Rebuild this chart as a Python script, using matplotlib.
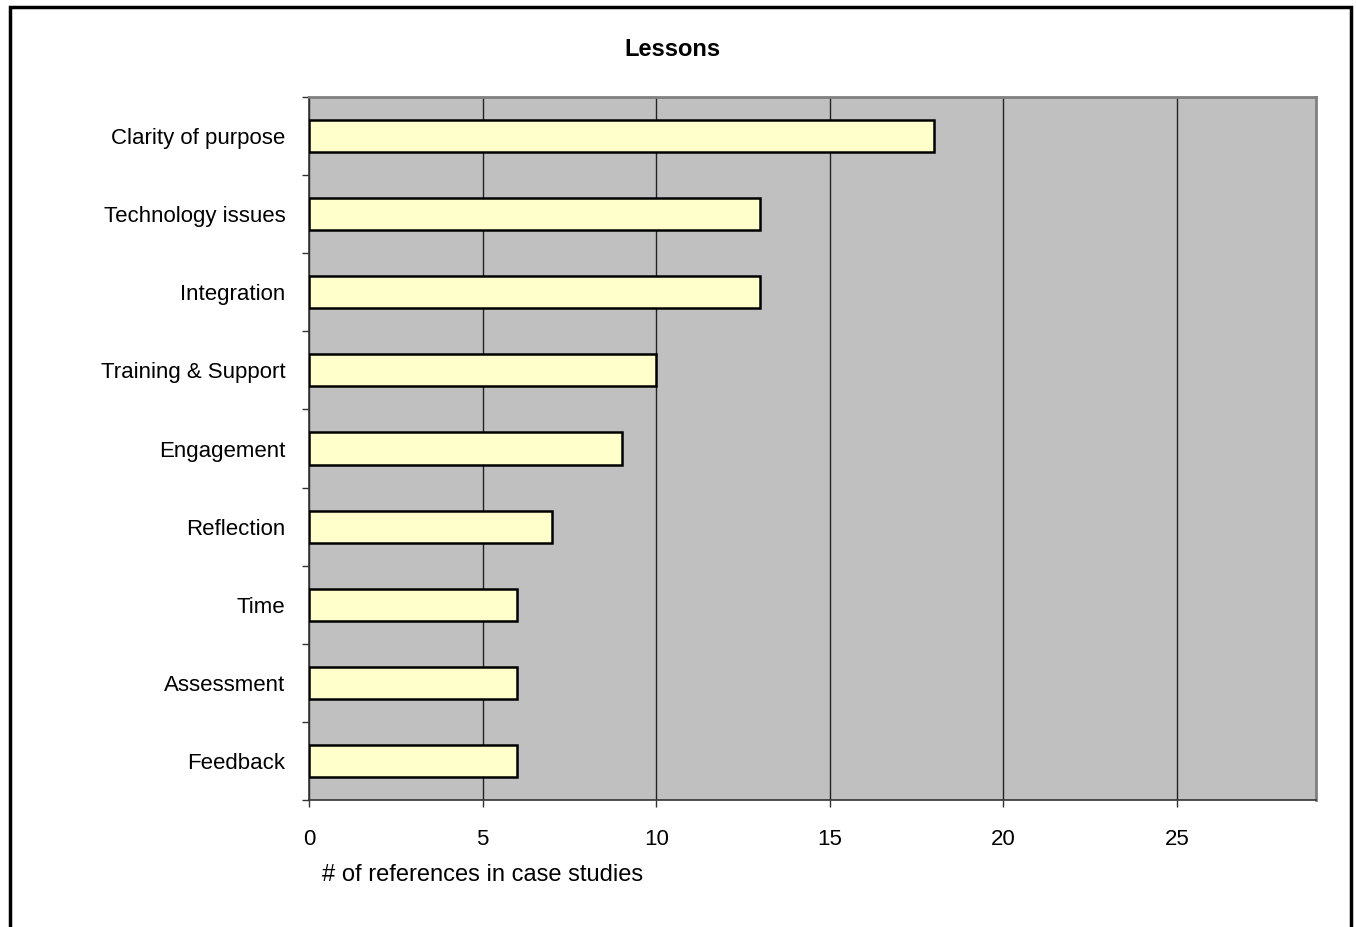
import matplotlib.pyplot as plt
from matplotlib.patches import Rectangle

plt.rcParams['font.family'] = ['Liberation Sans', 'DejaVu Sans']

# Lessons reported across the case studies (top to bottom)
categories = ["Clarity of purpose", "Technology issues", "Integration",
              "Training & Support", "Engagement", "Reflection", "Time",
              "Assessment", "Feedback"]
counts = [18, 13, 13, 10, 9, 7, 6, 6, 6]
x_ticks = [0, 5, 10, 15, 20, 25]

fig = plt.figure(figsize=(13.56, 9.27), dpi=100)
ax = fig.add_axes([309 / 1356, 1 - 800 / 927, (1316 - 309) / 1356, (800 - 97) / 927])
ax.set_facecolor('#C0C0C0')

n = len(categories)
ypos = [n - 1 - i for i in range(n)]
ax.barh(ypos, counts, height=0.41, color='#FFFFCC', edgecolor='black',
        linewidth=1.8, zorder=3)

ax.set_xlim(0, 29)
ax.set_ylim(-0.5, n - 0.5)

ax.set_xticks(x_ticks)
ax.set_xticklabels([str(t) for t in x_ticks], fontsize=16)
ax.xaxis.grid(True, color='#222222', linewidth=1.0, zorder=1)
ax.set_axisbelow(True)
ax.tick_params(axis='x', direction='out', length=5, width=1, pad=16, color='#333333')

# boundary ticks between categories, names centred on each bar
ax.set_yticks([i - 0.5 for i in range(n + 1)])
ax.set_yticklabels([])
ax.set_yticks(ypos, minor=True)
ax.set_yticklabels(categories, minor=True, fontsize=16)
ax.tick_params(axis='y', which='major', direction='out', length=5, width=1, color='#333333')
ax.tick_params(axis='y', which='minor', length=0, pad=17)

for side in ['top', 'right']:
    ax.spines[side].set_color('#808080')
    ax.spines[side].set_linewidth(2)
for side in ['left', 'bottom']:
    ax.spines[side].set_color('#333333')
    ax.spines[side].set_linewidth(1.2)

fig.text(672 / 1356, 1 - 49 / 927, "Lessons", fontsize=17, fontweight='bold',
         ha='center', va='center')
fig.text(483 / 1356, 1 - 875 / 927, "# of references in case studies",
         fontsize=17, ha='center', va='center')

# outer frame around the chart
fig.patches.append(Rectangle((10 / 1356, -0.05), (1351 - 10) / 1356, 1.05 - 7 / 927,
                             transform=fig.transFigure, fill=False,
                             edgecolor='black', linewidth=2.5))

fig.savefig("out.png", dpi=100)
